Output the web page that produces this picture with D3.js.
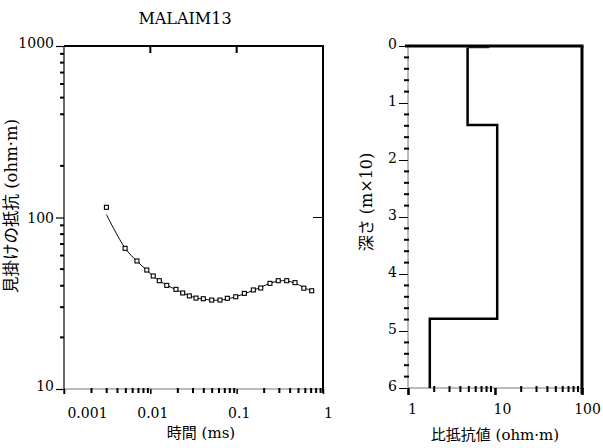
<!DOCTYPE html>
<html><head><meta charset="utf-8">
<script src="https://cdn.jsdelivr.net/npm/d3@7"></script>
<style>
body{margin:0;background:#fff;}
text{font-family:"DejaVu Serif","Noto Sans CJK JP",serif;fill:#000;}
</style></head>
<body>
<svg id="c" width="603" height="448"></svg>
<script>
// ---- data ----
const title = "MALAIM13";
// observed apparent resistivity
const obsTime = [0.0031,0.0051,0.0070,0.0091,0.0108,0.0127,0.0155,0.0198,0.0237,0.0283,0.0338,0.0411,0.0514,0.0641,0.078,0.0975,0.1227,0.156,0.19,0.243,0.303,0.380,0.474,0.60,0.74];
const obsRho  = [114.7,66.1,55.8,49.4,45.6,42.8,40.2,38.1,36.3,34.9,33.9,33.6,33.0,33.0,33.8,34.5,36.1,37.8,38.8,41.3,42.8,42.8,41.7,38.7,37.4];
// calculated response curve
const calcTime = [0.0031,0.0051,0.0070,0.0091,0.0108,0.0127,0.0155,0.0198,0.0237,0.0283,0.0338,0.0411,0.0514,0.0641,0.078,0.0975,0.1227,0.156,0.19,0.243,0.303,0.380,0.474,0.60,0.74];
const calcRho  = [104,66.3,55.6,49.3,45.5,42.9,40.3,38.0,36.3,35.0,34.0,33.4,33.0,33.0,33.5,34.5,35.9,37.6,39.2,41.3,42.6,42.7,41.4,39.1,37.2];
// layered model: resistivity and depth (m x 10) of each step
const modelRho   = [8.5, 8.5, 4.84, 4.84, 10.6, 10.6, 1.78, 1.78];
const modelDepth = [0, 0.03, 0.03, 1.385, 1.385, 4.785, 4.785, 6];
// axis ticks
const leftXTicks = [0.001,0.01,0.1,1];
const leftXLabels = ["0.001","0.01","0.1","1"];
const leftYTicks = [10,100,1000];
const leftYLabels = ["10","100","1000"];
const leftYMinor = [20,30,40,50,60,70,80,90,200,400,500,600,700,800,900];
const rightXTicks = [1,10,100];
const rightXLabels = ["1","10","100"];
const rightYTicks = [0,1,2,3,4,5,6];
const labels = {
  leftX:"時間 (ms)", leftY:"見掛けの抵抗 (ohm·m)",
  rightX:"比抵抗値 (ohm·m)", rightY:"深さ (m×10)"
};

// ---- drawing ----
const svg = d3.select("#c");
const L = {x0:64, x1:323, y0:46, y1:389};
const R = {x0:408, x1:582, y0:46, y1:388};

const xL = d3.scaleLog().domain([0.001,1]).range([L.x0,L.x1]);
const yL = d3.scaleLog().domain([10,1000]).range([L.y1,L.y0]);
const xR = d3.scaleLog().domain([1,100]).range([R.x0,R.x1]);
const yR = d3.scaleLinear().domain([0,6]).range([R.y0,R.y1]);

function minorLog(scale){
  const [a,b]=scale.domain(); const out=[];
  for(let e=Math.floor(Math.log10(a)); e<Math.log10(b); e++){
    for(let k=2;k<=9;k++){const v=k*Math.pow(10,e); if(v>a&&v<b) out.push(v);}
  }
  return out;
}

// title
svg.append("text").attr("x",185).attr("y",24).attr("text-anchor","middle")
  .style("font-size","16px").text(title);

// ---------- LEFT PLOT ----------
const gL = svg.append("g");
gL.append("line").attr("x1",L.x0).attr("x2",L.x1).attr("y1",L.y1).attr("y2",L.y1)
  .attr("stroke","#777").attr("stroke-width",1);
gL.append("line").attr("x1",L.x0).attr("x2",L.x0).attr("y1",L.y0).attr("y2",L.y1+5)
  .attr("stroke","#000").attr("stroke-width",1.2);
gL.append("line").attr("x1",L.x0).attr("x2",L.x1+1).attr("y1",L.y0).attr("y2",L.y0)
  .attr("stroke","#000").attr("stroke-width",2);
gL.append("line").attr("x1",L.x1).attr("x2",L.x1).attr("y1",L.y0).attr("y2",L.y1+4)
  .attr("stroke","#000").attr("stroke-width",2);

// bottom ticks
const axBL = d3.axisBottom(xL).tickValues(leftXTicks).tickSize(5).tickFormat((d,i)=>leftXLabels[i]);
const gBL = gL.append("g").attr("transform",`translate(0,${L.y1})`).call(axBL);
gBL.select(".domain").remove();
gBL.selectAll(".tick line").attr("stroke","#000").attr("stroke-width",1.5);
gBL.selectAll(".tick text").style("font-size","14px").attr("y",19)
  .attr("dx",(d,i)=> i===0?23:(i===3?5:2));
gL.selectAll(".bminor").data(minorLog(xL)).join("line")
  .attr("x1",d=>xL(d)+1.5).attr("x2",d=>xL(d)+1.5).attr("y1",L.y1-1).attr("y2",L.y1+4)
  .attr("stroke","#000").attr("stroke-width",2);
// top ticks (inward)
gL.selectAll(".tmaj").data([0.01,0.1]).join("line")
  .attr("x1",d=>xL(d)).attr("x2",d=>xL(d)).attr("y1",L.y0).attr("y2",L.y0+7)
  .attr("stroke","#000").attr("stroke-width",2);

// left ticks
const axLL = d3.axisLeft(yL).tickValues(leftYTicks).tickSize(8).tickFormat((d,i)=>leftYLabels[i]);
const gLL = gL.append("g").attr("transform",`translate(${L.x0},0)`).call(axLL);
gLL.select(".domain").remove();
gLL.selectAll(".tick line").attr("stroke","#000").attr("stroke-width",1.2);
gLL.selectAll(".tick text").style("font-size","14px").attr("x",-10)
  .attr("dy",(d,i)=> i===1?"0.35em":"0.1em");
gL.selectAll(".lminor").data(leftYMinor).join("line")
  .attr("x1",L.x0-4).attr("x2",L.x0).attr("y1",d=>yL(d)).attr("y2",d=>yL(d))
  .attr("stroke","#000").attr("stroke-width",2);
gL.append("line").attr("x1",L.x1-10).attr("x2",L.x1).attr("y1",yL(100)).attr("y2",yL(100))
  .attr("stroke","#000").attr("stroke-width",1);

// calc curve
const line = d3.line().x(d=>xL(d[0])).y(d=>yL(d[1])).curve(d3.curveCatmullRom.alpha(0.5));
gL.append("path").datum(calcTime.map((t,i)=>[t,calcRho[i]]))
  .attr("d",line).attr("fill","none").attr("stroke","#000").attr("stroke-width",1);
// observed points
gL.selectAll(".pt").data(obsTime.map((t,i)=>[t,obsRho[i]])).join("rect")
  .attr("x",d=>xL(d[0])-2).attr("y",d=>yL(d[1])-2).attr("width",4).attr("height",4)
  .attr("fill","#fff").attr("stroke","#000").attr("stroke-width",1.1);

// labels
svg.append("text").attr("x",201).attr("y",438).attr("text-anchor","middle")
  .style("font-size","15px").text(labels.leftX);
svg.append("text").attr("transform","translate(17,206) rotate(-90)").attr("text-anchor","middle")
  .style("font-size","16.5px").text(labels.leftY);

// ---------- RIGHT PLOT ----------
const gR = svg.append("g");
gR.append("line").attr("x1",R.x0).attr("x2",R.x1).attr("y1",R.y1).attr("y2",R.y1)
  .attr("stroke","#777").attr("stroke-width",1);
gR.append("line").attr("x1",R.x0).attr("x2",R.x0).attr("y1",R.y0).attr("y2",R.y1+6)
  .attr("stroke","#777").attr("stroke-width",1);
gR.append("line").attr("x1",R.x0-3).attr("x2",R.x1+1.5).attr("y1",R.y0).attr("y2",R.y0)
  .attr("stroke","#000").attr("stroke-width",3);
gR.append("line").attr("x1",R.x1).attr("x2",R.x1).attr("y1",R.y0).attr("y2",R.y1+6)
  .attr("stroke","#000").attr("stroke-width",3);

const axBR = d3.axisBottom(xR).tickValues(rightXTicks).tickSize(7).tickFormat((d,i)=>rightXLabels[i]);
const gBR = gR.append("g").attr("transform",`translate(0,${R.y1})`).call(axBR);
gBR.select(".domain").remove();
gBR.selectAll(".tick line").attr("stroke","#000").attr("stroke-width",2.5);
gBR.selectAll(".tick text").style("font-size","14px").attr("y",16).attr("dx",(d,i)=>i===0?4:(i===1?7:5));
gR.selectAll(".rbminor").data(minorLog(xR)).join("line")
  .attr("x1",d=>xR(d)).attr("x2",d=>xR(d)).attr("y1",R.y1-2).attr("y2",R.y1+4)
  .attr("stroke","#000").attr("stroke-width",2);

const axLR = d3.axisLeft(yR).tickValues(rightYTicks).tickSize(9).tickFormat(d3.format("d"));
const gLR = gR.append("g").attr("transform",`translate(${R.x0},0)`).call(axLR);
gLR.select(".domain").remove();
gLR.selectAll(".tick line").attr("stroke","#000").attr("stroke-width",1);
gLR.selectAll(".tick text").style("font-size","14px").attr("x",-11).attr("dy","0.2em");
const rMinor = d3.range(0,6.01,0.2).filter(v=>Math.abs(v-Math.round(v))>0.01);
gR.selectAll(".rlminor").data(rMinor).join("line")
  .attr("x1",R.x0-4).attr("x2",R.x0+1).attr("y1",d=>yR(d)).attr("y2",d=>yR(d))
  .attr("stroke","#000").attr("stroke-width",2);

const pts = modelRho.map((r,i)=>[r,modelDepth[i]]);
const mline = d3.line().x(d=>xR(d[0])).y(d=>yR(d[1]));
gR.append("path").datum(pts.slice(0,3)).attr("d",mline).attr("fill","none")
  .attr("stroke","#000").attr("stroke-width",1);
gR.append("path").datum(pts.slice(2)).attr("d",mline).attr("fill","none")
  .attr("stroke","#000").attr("stroke-width",2.5).attr("stroke-linejoin","miter");

svg.append("text").attr("x",495).attr("y",440).attr("text-anchor","middle")
  .style("font-size","15px").text(labels.rightX);
svg.append("text").attr("transform","translate(372,202) rotate(-90)").attr("text-anchor","middle")
  .style("font-size","16px").text(labels.rightY);
</script>
</body></html>
